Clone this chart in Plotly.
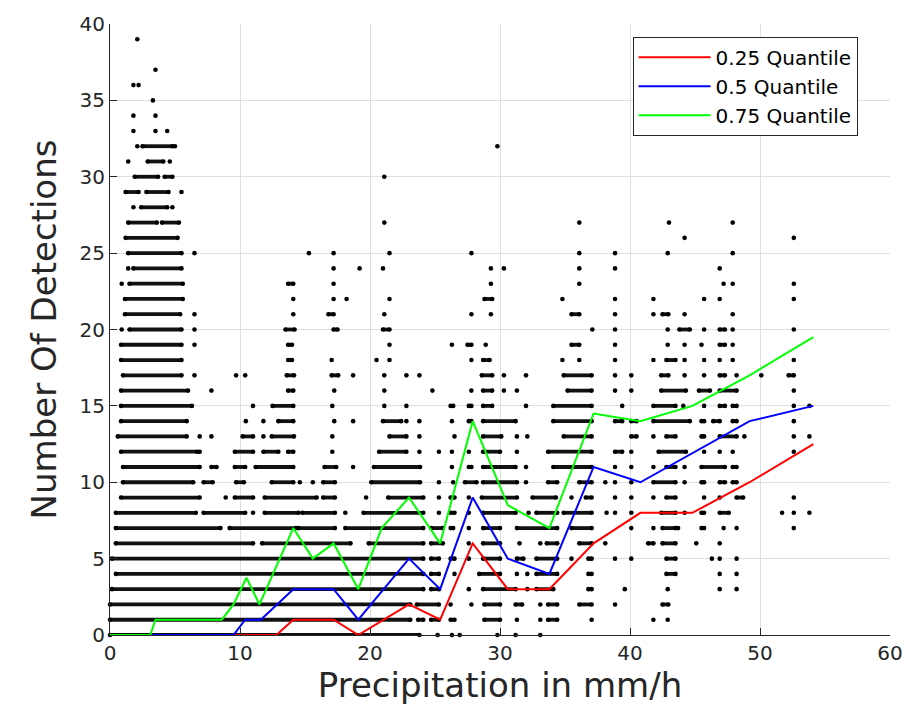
import plotly.graph_objects as go

# ---------------- data ----------------
# Detections per row: y value -> list of precipitation values (mm/h).
# A tuple (a, b) denotes an unbroken run of overlapping dots from a to b.
detections = {
    39: [2.1],
    37: [3.5],
    36: [1.8, 2.2],
    35: [3.3],
    34: [1.8, 3.5],
    33: [1.8, 3.5, 4.4],
    32: [2.1, (2.5, 4.8), 5.0, 29.8],
    31: [1.4, (2.9, 4.1), 4.6],
    30: [(1.9, 3.7), (4.2, 4.8), 21.1],
    29: [(1.2, 2.2), (2.8, 4.5), 5.5],
    28: [1.8, (2.4, 4.4), 4.8],
    27: [(1.4, 3.6), (4.0, 5.3), 21.1, 36.1, 43.0, 47.9],
    26: [(1.2, 5.2), 44.2, 52.6],
    25: [(1.4, 5.5), 6.5, 15.3, 17.2, 21.5, 27.8, 36.1, 38.85, 42.9, 47.9],
    24: [1.4, (1.8, 5.5), 17.2, 19.2, 21.0, 29.3, 30.3, 36.1, 38.85, 46.9],
    23: [0.9, (1.5, 5.6), (13.7, 14.1), 17.2, 29.3, 36.1, 47.2, 47.9, 52.6],
    22: [(1.15, 5.6), 14.1, 17.2, 18.2, 21.5, (28.8, 29.4), 34.8, 38.85, 41.8,
         45.7, 46.9, 52.6],
    21: [(1.15, 5.4), 6.5, 14.1, (16.8, 17.2), 21.1, 27.8, 29.3, (35.5, 36.1),
         38.85, 41.8, (42.5, 42.95), 44.2, 47.9],
    20: [0.9, (1.5, 5.5), 6.5, (13.5, 14.2), (17.2, 17.5), (21.0, 21.5), 37.1,
         38.85, 42.9, (43.8, 44.6), 45.7, (46.9, 47.3), 47.9, 52.6],
    19: [(0.85, 5.5), 6.5, (13.7, 14.0), 21.5, 26.3, (27.5, 27.8), 28.9,
         (35.5, 36.1), 38.85, 42.9, 44.2, 45.5, (46.9, 47.3), 47.9],
    18: [(0.85, 5.5), (13.7, 14.0), 17.05, 20.5, 21.5, 27.8, (28.7, 29.2), 34.8,
         36.1, 38.85, 41.8, (42.8, 43.5), 44.2, 45.7, 46.9, 47.9, 52.6],
    17: [(1.0, 5.5), 6.5, 9.7, 10.4, (13.6, 14.15), (17.05, 17.55), 18.7, 21.1,
         22.8, 23.8, (28.6, 29.4), 30.3, 32.0, (34.9, 37.05), 38.85, 40.1,
         (42.4, 42.95), 44.2, 45.7, (46.9, 47.3), 48.2, 50.1, (52.2, 52.6)],
    16: [(0.85, 6.0), 7.8, (13.7, 14.1), 17.25, 21.1, 24.8, 27.8, (28.7, 29.4),
         30.3, 31.3, (35.2, 37.05), 38.85, 40.1, (42.4, 44.3), (45.3, 46.15),
         (46.9, 48.2), 52.6],
    15: [(0.85, 6.3), 11.0, (12.5, 14.1), 17.1, 21.1, 22.8, (26.2, 26.4),
         (27.6, 27.8), (28.7, 29.4), 32.0, (34.1, 37.05), 39.4, (41.8, 43.5),
         44.1, 45.7, (46.9, 47.3), (47.9, 48.2), 52.6, 53.8],
    14: [(0.85, 5.9), 10.45, 11.8, (12.95, 14.1), 17.25, 18.7, (21.0, 22.4),
         22.8, 23.8, 26.3, (27.6, 27.8), (28.7, 31.2), (34.1, 37.05),
         (38.85, 39.4), (40.1, 40.5), (41.8, 44.6), (45.5, 45.7), (46.4, 46.9),
         (47.9, 48.2), 52.6],
    13: [(0.6, 5.9), 6.9, 7.8, (10.2, 11.0), 11.8, (12.44, 14.15), 17.1,
         (21.5, 22.8), 23.8, 26.5, (28.7, 30.1), 31.3, 32.1, (34.9, 37.05),
         (40.1, 40.5), 41.8, (42.8, 43.5), (45.5, 45.7), (46.9, 48.2), 48.8,
         52.6, 53.8],
    12: [(0.85, 6.7), 6.9, (9.6, 11.0), (11.8, 12.95), (13.7, 14.1), 17.1,
         (20.7, 22.8), 23.8, 25.3, 26.3, 27.6, (28.7, 30.0), 31.3, (33.7, 37.05),
         (38.85, 39.4), 40.1, (42.2, 44.3), 45.7, 46.9, 47.9, 52.6],
    11: [(1.0, 6.9), (7.8, 8.2), (9.6, 10.4), (11.2, 14.1), (16.5, 17.4), 18.7,
         (20.3, 23.85), 26.3, (27.6, 27.8), (28.7, 31.2), 32.0, (34.1, 37.05),
         38.85, 40.1, 41.8, (42.8, 43.5), 44.2, (45.5, 47.3), (47.9, 48.2)],
    10: [(1.0, 6.4), (7.2, 7.9), (9.7, 10.3), (12.44, 14.1), 14.6, 15.6,
         (16.4, 17.3), (20.1, 23.85), 25.3, 26.4, (27.3, 28.2), (28.7, 31.3),
         32.0, (33.7, 34.4), (36.1, 37.05), 38.1, 38.85, 40.1, (41.8, 43.5),
         44.2, (45.5, 45.7), (46.9, 47.3), (47.9, 48.2)],
    9: [(0.85, 6.9), 8.9, (9.6, 11.0), (11.9, 15.9), (16.4, 17.3), 19.7,
        (21.4, 24.1), 25.3, (26.2, 26.5), 27.6, (28.6, 31.3), (32.5, 34.3), 35.5,
        (36.6, 37.05), 38.85, 40.1, 41.8, (42.8, 43.5), 45.7, 46.9, (48.2, 48.7),
        52.6],
    8: [(0.45, 6.6), (7.2, 10.4), 11.0, (11.9, 14.5), (14.8, 17.3), 18.1,
        (19.5, 24.1), 25.3, (26.2, 26.5), 27.6, (28.7, 31.2), 32.2, (32.8, 34.4),
        (34.9, 37.05), 38.2, 38.85, 40.1, (42.4, 43.5), 44.2, (45.5, 45.7),
        (46.9, 47.6), 51.7, 52.6, 53.8],
    7: [(0.45, 8.5), (9.2, 14.3), (14.5, 17.3), (18.1, 24.1), (24.7, 25.6),
        (26.2, 26.4), 27.6, (28.7, 30.0), (31.3, 34.4), (35.5, 37.05), 40.1, 41.8,
        (42.5, 43.5), 43.7, (45.5, 45.7), 47.2, 48.2, 52.6],
    6: [(0.45, 11.0), (11.7, 18.5), (19.9, 24.1), (24.7, 25.6), 27.6,
        (28.7, 30.0), 31.5, 33.1, (33.6, 34.4), (36.1, 37.05), 38.1, (41.4, 41.8),
        (42.5, 43.5), 45.1, 46.9],
    5: [(0.15, 24.1), (24.7, 25.3), (26.2, 26.5), 27.6, (28.7, 30.0),
        (31.3, 31.8), (32.8, 34.4), 35.5, (36.8, 37.05), 38.85, 40.1,
        (42.8, 43.5), 46.3, 46.9, 48.2],
    4: [(0.45, 24.1), (24.7, 25.3), 26.5, (28.4, 30.0), 31.3, 32.1, (32.8, 34.4),
        (36.8, 37.05), (42.8, 43.5), 46.9, 48.2],
    3: [(0.15, 24.1), (24.7, 25.3), 27.6, (28.7, 31.2), 32.1, (32.8, 34.1),
        (36.8, 37.05), 39.6, 42.9, 46.9, 48.2],
    2: [(0.0, 23.1), (23.6, 25.3), 26.2, 27.8, (28.8, 30.0), (31.2, 31.7), 33.1,
        (33.7, 34.4), (36.1, 37.05), 38.85, (42.5, 42.95)],
    1: [(0.0, 23.1), (23.7, 24.1), (24.7, 25.3), (26.2, 26.5), (28.8, 30.0),
        31.3, 33.1, (33.7, 34.4), 37.05, 41.8, 42.9],
    0: [(0.0, 23.8), 25.2, 26.3, 26.9, 29.8, 31.2, 33.1],
}

q25_x = [0, 12.8, 14.1, 17.2, 19.1, 23.0, 25.4, 27.9, 30.6, 33.8, 37.2, 40.8,
         44.8, 49.2, 54.1]
q25_y = [0, 0, 1, 1, 0, 2, 1, 6, 3, 3, 6, 8, 8, 10, 12.5]

q50_x = [0, 9.5, 10.4, 11.6, 14.1, 17.2, 19.1, 23.0, 25.4, 27.9, 30.6, 33.8,
         37.2, 40.8, 49.2, 54.1]
q50_y = [0, 0, 1, 1, 3, 3, 1, 5, 3, 9, 5, 4, 11, 10, 14, 15]

q75_x = [0, 3.1, 3.5, 8.6, 9.5, 10.5, 11.5, 14.1, 15.6, 17.2, 19.1, 20.9, 23.0,
         25.4, 27.9, 30.6, 33.8, 37.2, 40.8, 44.8, 49.2, 54.1]
q75_y = [0, 0, 1, 1, 2, 3.75, 2, 7, 5, 6, 3, 7, 9, 6, 14, 8.5, 7, 14.5, 14, 15,
         17, 19.5]

series_names = ["0.25 Quantile", "0.5 Quantile", "0.75 Quantile"]
x_ticks = [0, 10, 20, 30, 40, 50, 60]
y_ticks = [0, 5, 10, 15, 20, 25, 30, 35, 40]

# ---------------- build traces ----------------
single_x, single_y = [], []
run_x, run_y = [], []
for yv, items in detections.items():
    for it in items:
        if isinstance(it, tuple):
            run_x += [it[0], it[1], None]
            run_y += [yv, yv, None]
        else:
            single_x.append(it)
            single_y.append(yv)

DOT = 4.6
fig = go.Figure()
fig.add_trace(go.Scatter(
    x=run_x, y=run_y, mode="lines+markers", showlegend=False,
    line=dict(color="#111111", width=3.8),
    marker=dict(color="black", size=DOT), cliponaxis=False,
    hoverinfo="skip"))
fig.add_trace(go.Scatter(
    x=single_x, y=single_y, mode="markers", showlegend=False,
    marker=dict(color="black", size=DOT), cliponaxis=False))

for name, xs, ys, col in zip(series_names,
                             [q25_x, q50_x, q75_x],
                             [q25_y, q50_y, q75_y],
                             ["#ff0000", "#0000ff", "#00ff00"]):
    fig.add_trace(go.Scatter(x=xs, y=ys, mode="lines", name=name,
                             line=dict(color=col, width=2)))

FONT = "DejaVu Sans"
TXT = "#262626"
axis_common = dict(
    showgrid=True, gridcolor="#dfdfdf", gridwidth=1,
    zeroline=False, showline=True, linecolor=TXT, linewidth=1,
    ticks="inside", ticklen=7, tickcolor=TXT, mirror=False,
    tickfont=dict(family=FONT, size=20, color=TXT),
)
fig.update_layout(
    width=920, height=718,
    margin=dict(l=110, r=30, t=18, b=83),
    paper_bgcolor="white", plot_bgcolor="white",
    font=dict(family=FONT, color=TXT),
    xaxis=dict(range=[0, 60], tickvals=x_ticks,
               title=dict(text="Precipitation in mm/h",
                          font=dict(family=FONT, size=34, color=TXT),
                          standoff=4),
               **axis_common),
    yaxis=dict(range=[0, 40], tickvals=y_ticks,
               title=dict(text="Number Of Detections",
                          font=dict(family=FONT, size=34, color=TXT),
                          standoff=12),
               **axis_common),
    legend=dict(x=0.67, y=0.979, xanchor="left", yanchor="top",
                bgcolor="white", bordercolor=TXT, borderwidth=1,
                font=dict(family=FONT, size=20, color="#000000"),
                itemwidth=72, tracegroupgap=0),
)

fig.write_html("out.html")
